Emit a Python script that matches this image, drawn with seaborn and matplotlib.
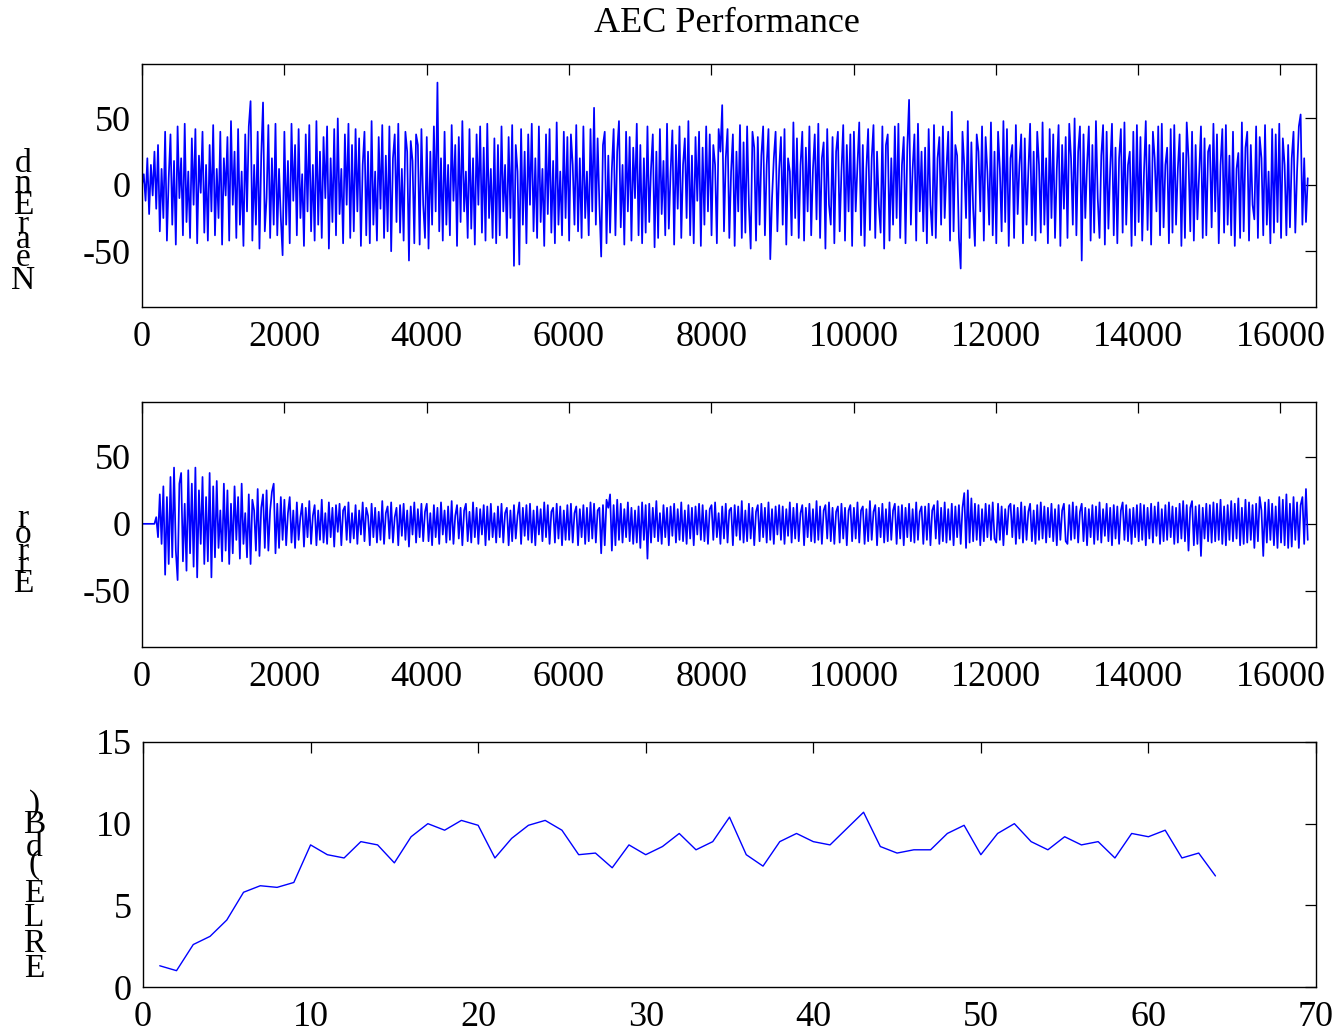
import numpy as np
import pandas as pd
import matplotlib
matplotlib.use("Agg")
import matplotlib.pyplot as plt
import seaborn as sns

# ---------------- data ----------------
title = "AEC Performance"
label_near = "NearEnd"
label_err = "Error"
label_erle = "ERLE (dB)"

signal_len = 16384

near_end = [
    0, 8, -12, 20, -22, 15, -8, 25, -18, 30, -35, 12, -25, 40, -42, 5, 38, -30, 18, -45, 44, -10, 20, -38, 46, -28, 10, -40, 35, -15, 42, -44, 22, -6, 40, -36, 15, -42, 30, -20,
    45, -38, 12, -25, 40, -45, 20, -8, 36, -42, 48, -15, 25, -40, 42, -30, 10, -46, 38, -20, 44, 63, -42, 15, -30, 40, -48, 22, 62, -35, -10, 45, -40, 20, -30, 46, -38, 12, -25, -53,
    40, -30, 18, -44, 46, -12, 30, -38, 42, -25, 8, -46, 38, -20, 45, -35, 15, -42, 48, -30, 25, -40, 36, -10, 44, -48, 20, -28, 42, -38, 50, -22, 12, -44, 38, -15, 46, -40, 30, -35,
    42, -20, 35, -46, 15, 40, -38, 25, -44, 48, -30, 10, -42, 36, -18, 45, -40, 22, -35, 44, -50, 20, 38, -28, 46, -36, 12, -42, 40, 25, -57, 33, 18, -44, 38, 30, -45, 42, -15, -40,
    36, -48, 25, -30, 44, -20, 77, -35, 20, -42, 40, -30, 15, -38, 45, -12, 30, -46, 36, -28, 48, -20, 10, -40, 42, -33, 20, -45, 38, -15, 44, -36, 28, -42, 46, -25, 12, -40, 35, -44,
    30, -38, 44, -20, 15, -40, 36, -25, 45, -61, 30, 10, -60, 42, -30, 25, -44, 38, -15, 46, -35, 20, -40, 44, -28, 12, -46, 38, -22, 42, -36, 18, -44, 47, -30, 10, -38, 40, -25, 36,
    -42, 38, 15, -30, 45, -35, 20, -40, 44, -25, 10, -38, 42, -20, 58, -30, 35, -15, -54, 30, 40, -44, 22, -36, 12, 42, -38, 25, 48, -32, 15, -45, 40, -20, 36, -42, 28, -10, 46, -38,
    30, -44, 20, -36, 44, -28, 12, 38, -47, 25, -40, 42, -22, 18, -38, 46, -33, 10, 41, -45, 30, -18, 44, -40, 15, 35, -25, 48, -38, 22, -44, 36, -12, 40, -46, 28, -30, 44, -20, 38,
    -38, 30, 15, -44, 42, 25, 60, -35, 20, 42, -40, 10, 38, -46, 25, -20, 45, -40, 32, -36, 44, -15, -48, 40, 28, -42, 36, -30, 22, 44, -38, 15, 42, -56, -10, 20, 40, -35, 12, 36,
    -30, 42, -45, 20, 10, -38, 47, -25, 35, -40, 15, 40, -42, 28, -20, 44, -38, 12, 38, -26, 46, -40, 20, 32, -48, 42, -15, -30, 36, -44, 25, 40, -35, 10, 45, -42, 30, -20, 38, -46,
    40, -20, 15, 47, -38, 30, -46, 12, 42, -34, 20, 45, -40, 25, -15, -36, 44, -48, 30, 38, -42, 20, -30, 44, -25, 46, -40, 15, 36, -44, 28, 64, -30, 12, 38, -42, 46, -20, 25, -35,
    28, -44, 42, -15, -38, 45, -40, 20, 36, -30, 44, -25, 12, 40, -42, 55, -35, 30, 22, -40, -63, 40, 15, -25, 48, -40, 32, -18, -46, 38, 25, -20, 44, -42, 36, 10, -30, 47, -38, 25,
    -44, 40, 12, -35, 48, -28, 42, -46, 20, 30, -40, 45, -22, 15, 38, -44, 35, -30, 10, 46, -38, 25, -42, 40, 15, -36, 47, -30, 20, -44, 42, -25, 38, -40, 12, 45, -46, 30, -18, 36,
    -40, 46, 20, -30, 50, -38, 25, 44, -57, 38, -25, 15, 44, -42, 30, -36, 48, -10, -40, 22, 45, -45, 40, -33, 12, 46, -38, 28, -44, 20, 42, -36, 47, -30, 15, 25, -46, 40, -38, 45,
    -28, 36, -42, 10, 48, -34, 30, -45, 40, 20, -20, 44, -38, 46, -32, 15, 28, -44, 42, -36, 45, -30, 12, 38, -46, 24, -40, 47, 20, -35, 40, -42, 30, -26, 10, 44, -40, 35, -38, 25,
    30, -32, 46, -20, 38, -44, 15, 42, -36, 45, -30, 22, -38, 40, -46, 12, 24, -40, 47, -35, 28, 40, -42, 30, -15, -26, 44, -40, 36, 20, -38, 45, -30, 10, -44, 42, -36, 38, -28, 46,
    -40, 35, 15, -38, 30, -32, 20, 40, -36, 10, 44, 53, -30, 20, -28, 5,
]

error = [
    0, 0, 0, 0, 0, 0, 0, 0, 5, -10, 22, -15, 28, -38, 20, -30, 35, -25, 42, -20, -42, 30, 38, -28, 15, -35, 40, -22, 30, -32, 42, -40, 25, -15, 35, -30, 20, -28, 38, -40,
    28, -25, 32, -18, 10, -28, 30, -20, 25, -30, 15, -22, 28, -12, 20, -26, 30, -15, 8, -25, 22, -30, 18, 10, -20, 26, -24, 12, 22, -18, 25, -20, 10, 24, 30, -22, 15, -18, 20, -12,
    18, -16, 8, 20, -14, 10, -18, 16, -12, 5, 15, -17, 12, -10, 17, -15, 6, 14, -16, 10, -12, 18, -14, 8, -15, 16, -10, 12, -17, 14, -6, 15, -16, 10, 13, -12, 16, -14, 8, -11,
    14, -15, 10, -8, 16, -13, 12, 6, -16, 15, -10, 12, -14, 9, -12, 17, -15, 8, 13, -11, 16, -14, 5, 12, -16, 14, -9, 15, -12, 10, -17, 13, -8, 16, -14, 11, -10, 15, -13, 9,
    15, -13, 8, -16, 14, -10, 12, -15, 16, -8, 10, -14, 13, -12, 17, -15, 6, 14, -11, 12, -16, 10, 15, -13, 9, -14, 16, -10, 12, -15, 11, -8, 14, -16, 13, -12, 15, -10, 8, -14,
    13, -10, 15, -14, 8, 12, -16, 10, -13, 14, -11, 6, 16, -15, 12, -9, 14, -12, 15, -14, 10, -16, 13, -8, 11, -13, 16, -10, 14, -15, 9, 12, -14, 15, -11, 13, -16, 10, -12, 14,
    -12, 15, -14, 8, 13, -16, 11, -10, 14, -15, 12, -13, 16, -11, 15, -14, 10, 12, -22, 14, -16, 18, 12, 22, -20, 14, -16, 18, -12, 15, -14, 11, -10, 16, -13, 12, -15, 10, -14, 13,
    -18, 16, -12, 14, -26, 15, -14, 12, -10, 17, -13, 8, -15, 14, -10, 12, -16, 13, -9, 15, -14, 11, -12, 16, -13, 10, -15, 14, -11, 12, -16, 13, -8, 15, -12, 14, -13, 10, -15, 11,
    14, -12, 16, -10, 8, -15, 13, -11, 15, -14, 10, 12, -16, 14, -9, 13, -12, 17, -14, 10, -13, 15, -11, 12, -16, 9, 14, -13, 15, -10, 12, -14, 16, -12, 11, -15, 13, -8, 14, -12,
    13, -15, 11, -9, 16, -14, 12, -11, 15, -13, 8, 14, -16, 12, -10, 15, -13, 11, -14, 17, -12, 13, -15, 10, 14, -11, 16, -13, 12, -15, 9, 13, -14, 15, -11, 12, -16, 10, 14, -13,
    12, -11, 16, -14, 10, 13, -15, 11, -13, 17, -12, 9, 14, -16, 12, -10, 15, -14, 11, -13, 16, -12, 10, 15, -15, 13, -11, 14, -16, 12, -10, 15, -13, 11, -14, 16, -12, 9, 13, -15,
    13, -12, 15, -16, 10, 14, -11, 17, -15, 12, -13, 16, -14, 11, -12, 15, -16, 13, -10, 14, -15, 12, 23, -18, 25, -14, 19, -13, 15, -12, 14, -16, 11, -13, 15, -10, 14, -12, 16, -11,
    -14, 15, -12, 13, -16, 11, -8, 13, 15, -10, 14, -15, 12, -11, 16, -14, 13, -12, 9, 15, -13, 10, -15, 14, -12, 16, -11, 13, -14, 12, -10, 15, -13, 11, -16, 14, -12, 10, 15, -13,
    -15, 14, -12, 16, -11, 13, -14, 9, 15, -13, 12, -16, 11, -10, 14, -15, 13, -12, 16, -14, 11, -9, 15, -13, 12, -16, 14, -11, 13, -15, 10, 16, -12, 14, -13, 11, -15, 12, -10, 14,
    -13, 15, -12, 14, -16, 12, -11, 15, -14, 13, -9, 16, -15, 11, -13, 14, -12, 16, -10, 13, -15, 12, -14, 15, -11, 17, -13, 14, -20, 12, 17, -16, 13, -15, 14, -24, 12, -11, 15, -13,
    14, -14, 16, -13, 15, -12, 18, -15, 13, -16, 14, -12, 17, -13, 15, -11, 19, -16, 12, -15, 18, -14, 16, -12, 14, -18, 15, -13, 20, 10, -24, 16, -14, 18, -12, 15, -16, 13, -18, 20,
    -14, 18, -16, 22, -18, 15, -17, 20, -12, 16, -18, 14, 20, -15, 26, -12,
]

erle_block = list(range(1, 65))
erle = [
    1.3, 1.0, 2.6, 3.1, 4.1, 5.8, 6.2, 6.1, 6.4, 8.7,
    8.1, 7.9, 8.9, 8.7, 7.6, 9.2, 10.0, 9.6, 10.2, 9.9,
    7.9, 9.1, 9.9, 10.2, 9.6, 8.1, 8.2, 7.3, 8.7, 8.1,
    8.6, 9.4, 8.4, 8.9, 10.4, 8.1, 7.4, 8.9, 9.4, 8.9,
    8.7, 9.7, 10.7, 8.6, 8.2, 8.4, 8.4, 9.4, 9.9, 8.1,
    9.4, 10.0, 8.9, 8.4, 9.2, 8.7, 8.9, 7.9, 9.4, 9.2,
    9.6, 7.9, 8.2, 6.8,
]

sig_xticks = list(range(0, 16001, 2000))
sig_yticks = [-50, 0, 50]
erle_xticks = list(range(0, 71, 10))
erle_yticks = [0, 5, 10, 15]

# ---------------- style ----------------
sns.set_style("white")
plt.rcParams['font.family'] = ['Liberation Serif', 'DejaVu Serif']
plt.rcParams['axes.unicode_minus'] = False
plt.rcParams['text.color'] = 'black'

W, H = 1337, 1033
fig = plt.figure(figsize=(W / 100, H / 100), dpi=100)
fig.patch.set_facecolor("white")


def ax_at(l, t, r, b):
    return fig.add_axes([l / W, 1 - b / H, (r - l) / W, (b - t) / H])


ax1 = ax_at(142, 64, 1316, 307)
ax2 = ax_at(142, 402, 1316, 647)
ax3 = ax_at(143, 742, 1316, 987)

df1 = pd.DataFrame({"n": np.linspace(0, signal_len, len(near_end)), "v": near_end})
df2 = pd.DataFrame({"n": np.linspace(0, signal_len, len(error)), "v": error})
df3 = pd.DataFrame({"k": erle_block, "v": erle})

sns.lineplot(data=df1, x="n", y="v", ax=ax1, color="#0000FF", linewidth=1.25, estimator=None)
sns.lineplot(data=df2, x="n", y="v", ax=ax2, color="#0000FF", linewidth=1.25, estimator=None)
sns.lineplot(data=df3, x="k", y="v", ax=ax3, color="#0000FF", linewidth=1.0, estimator=None)

for ax in (ax1, ax2):
    ax.set_xlim(0, 16500)
    ax.set_ylim(-92, 91)
    ax.set_xticks(sig_xticks)
    ax.set_xticklabels([str(t) for t in sig_xticks])
    ax.set_yticks(sig_yticks)
    ax.set_yticklabels([str(t) for t in sig_yticks])

ax3.set_xlim(0, 70)
ax3.set_ylim(0, 15)
ax3.set_xticks(erle_xticks)
ax3.set_xticklabels([str(t) for t in erle_xticks])
ax3.set_yticks(erle_yticks)
ax3.set_yticklabels([str(t) for t in erle_yticks])

for ax in (ax1, ax2, ax3):
    ax.set_xlabel("")
    ax.set_ylabel("")
    ax.set_facecolor("white")
    ax.tick_params(direction="in", top=True, right=True, length=8, width=0.9,
                   labelsize=26, colors="black")
    ax.tick_params(axis="x", pad=10)
    ax.tick_params(axis="y", pad=8)
    for s in ax.spines.values():
        s.set_color("black")
        s.set_linewidth(1.0)

fig.text(727 / W, 1 - 23 / H, title, ha="center", va="center", fontsize=26, color="black")

ADV = {'N': .722, 'e': .444, 'a': .444, 'r': .333, 'E': .611, 'n': .5, 'd': .5,
       'o': .5, 'L': .611, 'R': .667, '(': .333, 'B': .667, ')': .333, ' ': .25}


def stack_label(text, x_px, first_center_px, em=40, fs=24):
    cum = 0.0
    a0 = ADV[text[0]]
    for ch in text:
        a = ADV[ch]
        if ch != ' ':
            yc = first_center_px - (cum + a / 2 - a0 / 2) * em
            fig.text(x_px / W, 1 - yc / H, ch, ha="center", va="center",
                     fontsize=fs, color="black")
        cum += a


stack_label(label_near, 23, 281)
stack_label(label_err, 23, 584)
stack_label(label_erle, 34, 969)

fig.savefig("out.png", dpi=100)
